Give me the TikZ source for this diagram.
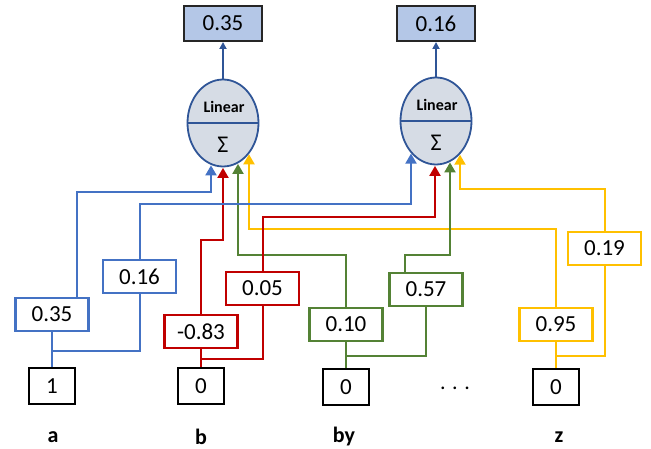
\documentclass[tikz,border=0pt]{standalone}
\usepackage{fontspec}
\setmainfont{Carlito}
\usepackage{xcolor}
\usepackage{tikz}
\usetikzlibrary{arrows.meta,calc,shapes.geometric}
\definecolor{wblue}{HTML}{4472C4}
\definecolor{wred}{HTML}{C00000}
\definecolor{wgreen}{HTML}{548235}
\definecolor{wyellow}{HTML}{FFC000}
\definecolor{outfill}{HTML}{B4C7E7}
\definecolor{neufill}{HTML}{D6DCE5}
\definecolor{neuline}{HTML}{2F5597}
\tikzset{wbox/.style={draw,line width=2.2pt,fill=white,minimum width=73pt,minimum height=33pt,inner sep=0pt,font=\fontsize{23}{26}\selectfont}}
\tikzset{inbox/.style={draw=black,line width=2.2pt,fill=white,minimum width=46pt,minimum height=36pt,inner sep=0pt,font=\fontsize{23}{26}\selectfont}}
\tikzset{outbox/.style={draw=black!85,line width=2pt,fill=outfill,minimum width=78pt,minimum height=35pt,inner sep=0pt,font=\fontsize{23}{26}\selectfont}}
\tikzset{neuron/.style={ellipse,draw=neuline,line width=1.8pt,fill=neufill,minimum width=71pt,minimum height=87pt,inner sep=0pt}}
\tikzset{wire/.style={line width=2pt}}
\tikzset{lbl/.style={font=\bfseries\fontsize{22}{26}\selectfont}}

\begin{document}
\begin{tikzpicture}[x=1pt, y=-1pt, >={Triangle[length=10pt,width=11pt]}]
\useasboundingbox (0,0) rectangle (651,449);
    % outputs and neurons
    \node[outbox] (o1) at (223,23.5) {0.35};
    \node[outbox] (o2) at (436,23.5) {0.16};
    \node[neuron] (n1) at (223,123) {};
    \node[neuron] (n2) at (436,121) {};
    \draw[neuline,line width=1.8pt] (n1.west) -- (n1.east);
    \draw[neuline,line width=1.8pt] (n2.west) -- (n2.east);
    \node[font=\bfseries\fontsize{16}{18}\selectfont] (lin1) at (224,107) {Linear};
    \node[font=\bfseries\fontsize{16}{18}\selectfont] (lin2) at (437,105) {Linear};
    \node[font=\fontsize{24}{26}\selectfont] (sig1) at (223,145) {Σ};
    \node[font=\fontsize{24}{26}\selectfont] (sig2) at (436,143) {Σ};
    \draw[neuline,wire,-{Triangle[length=7pt,width=7pt]}] (n1.north) -- (o1.south);
    \draw[neuline,wire,-{Triangle[length=7pt,width=7pt]}] (n2.north) -- (o2.south);

    % arrow tips on the neurons
    \coordinate (ta1) at ($(n1.center)+(-12,42.4)$);
    \coordinate (tr1) at ($(n1.center)+(0,44.9)$);
    \coordinate (tg1) at ($(n1.center)+(15,40.9)$);
    \coordinate (ty1) at ($(n1.center)+(26,31.3)$);
    \coordinate (ta2) at ($(n2.center)+(-25,32.6)$);
    \coordinate (tr2) at ($(n2.center)+(-1,44.9)$);
    \coordinate (tg2) at ($(n2.center)+(14,41.4)$);
    \coordinate (ty2) at ($(n2.center)+(24,33.7)$);

    % inputs
    \node[inbox] (xa) at (52,386) {1};
    \node[inbox] (xb) at (201,386) {0};
    \node[inbox] (xc) at (346,387) {0};
    \node[inbox] (xd) at (556,387) {0};
    \node[font=\fontsize{22}{26}\selectfont] (dots) at (455,388) {. . .};
    \node[lbl] (la) at (53,437) {a};
    \node[lbl] (lb) at (201,437) {b};
    \node[lbl] (lc) at (344,437) {by};
    \node[lbl] (ld) at (559,437) {z};

    % weights
    \node[wbox,draw=wblue] (wa1) at (52,314.5) {0.35};
    \node[wbox,draw=wblue] (wa2) at (139.5,276.5) {0.16};
    \node[wbox,draw=wred] (wb1) at (201,331.5) {-0.83};
    \node[wbox,draw=wred] (wb2) at (262.5,288.5) {0.05};
    \node[wbox,draw=wgreen] (wc1) at (346,324.5) {0.10};
    \node[wbox,draw=wgreen] (wc2) at (426,289.5) {0.57};
    \node[wbox,draw=wyellow] (wd1) at (556,324.5) {0.95};
    \node[wbox,draw=wyellow] (wd2) at (604.5,248.5) {0.19};

    \coordinate (ja) at ($(xa.north)+(0,-16)$);
    \coordinate (jb) at ($(xb.north)+(0,-8)$);
    \coordinate (jc) at ($(xc.north)+(0,-12)$);
    \coordinate (jd) at ($(xd.north)+(0,-12)$);

    \draw[wire,wblue] (xa.north) -- (wa1.south);
    \draw[wire,wblue] (ja) -| (wa2.south);
    \draw[wire,wred] (xb.north) -- (wb1.south);
    \draw[wire,wred] (jb) -| (wb2.south);
    \draw[wire,wgreen] (xc.north) -- (wc1.south);
    \draw[wire,wgreen] (jc) -| (wc2.south);
    \draw[wire,wyellow] (xd.north) -- (wd1.south);
    \draw[wire,wyellow] (jd) -| (wd2.south);

    \draw[wire,wyellow,->] (wd2.north) -- ++(0,-41.5) -| (ty2);
    \draw[wire,wyellow,->] (wd1.north) -- ++(0,-77.5) -| (ty1);
    \draw[wire,wgreen,->] (wc1.north) -- ++(0,-51.5) -| (tg1);
    \draw[wire,wgreen,->] ([xshift=-21pt]wc2.north) -- ++(0,-16.5) -| (tg2);
    \draw[wire,wred,->] (wb2.north) -- ++(0,-53.5) -| (tr2);
    \draw[wire,wred,->] (wb1.north) -- ++(0,-73.5) -| (tr1);
    \draw[wire,wblue,->] (wa2.north) -- ++(0,-55) -| (ta2);
    \draw[wire,wblue,->] ([xshift=25pt]wa1.north) -- ++(0,-105) -| (ta1);
\end{tikzpicture}
\end{document}
